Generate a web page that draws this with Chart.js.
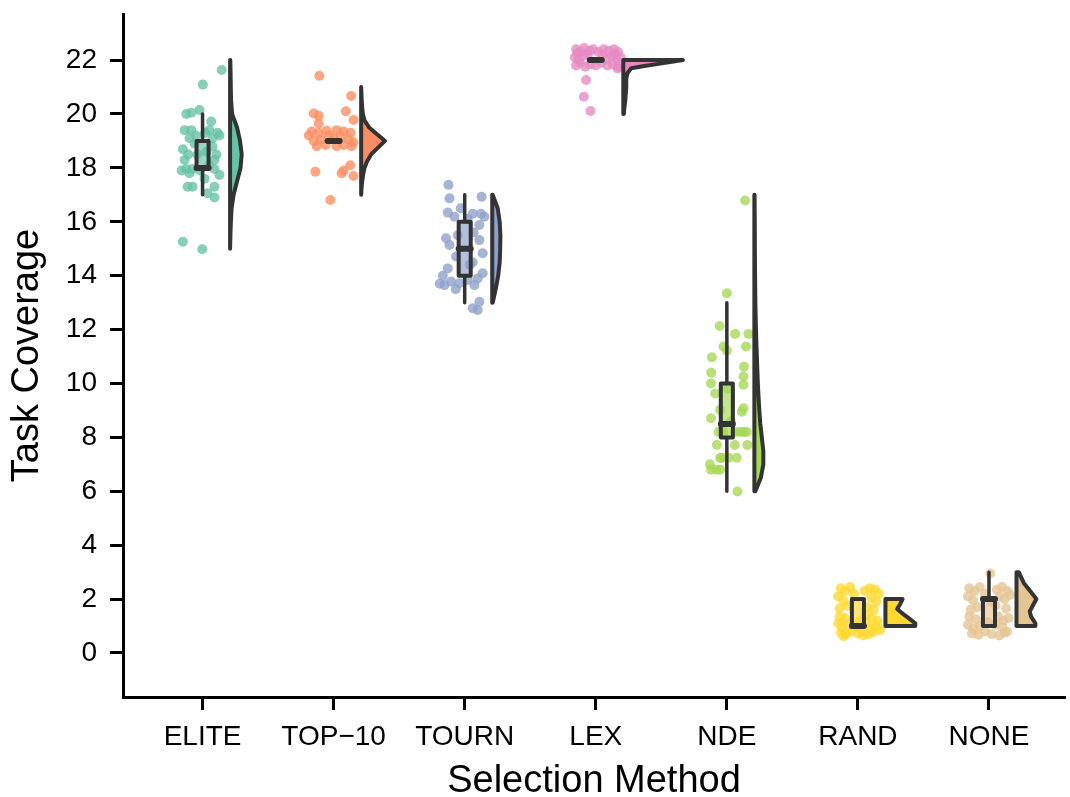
<!DOCTYPE html>
<html>
<head>
<meta charset="utf-8">
<script src="https://cdn.jsdelivr.net/npm/chart.js@4.4.0/dist/chart.umd.min.js"></script>
<style>
body{margin:0;background:#fff}
#wrap{width:1070px;height:797px}
</style>
</head>
<body>
<div id="wrap"><canvas id="myChart" width="1070" height="797"></canvas></div>
<script>
var methods = ["ELITE", "TOP\u221210", "TOURN", "LEX", "NDE", "RAND", "NONE"];
var colors = ["#66c2a5", "#fc8d62", "#8da0cb", "#e78ac3", "#a6d854", "#ffd92f", "#e5c494"];
var yTicks = [0, 2, 4, 6, 8, 10, 12, 14, 16, 18, 20, 22];

// box stats (whisker low, q1, median, q3, whisker high)
var boxLow  = [17, 19, 13, 22, 6,   1, 1];
var boxQ1   = [18, 19, 14, 22, 8,   1, 1];
var boxMed  = [18, 19, 15, 22, 8.5, 1, 2];
var boxQ3   = [19, 19, 16, 22, 10,  2, 2];
var boxHigh = [20, 19, 17, 22, 13,  2, 3];

// half violins: value grid and density
var eliteVioY = [15, 15.5, 16, 16.5, 17, 17.5, 18, 18.5, 19, 19.5, 20, 20.5, 21, 21.5, 22];
var eliteVioD = [0, 0.3, 0.8, 1.5, 3.5, 7, 10.5, 11.7, 10, 7, 2, 1, 0.7, 0.5, 0.2];
var top10VioY = [17, 17.25, 17.5, 17.75, 18, 18.25, 18.5, 18.75, 19, 19.25, 19.5, 19.75, 20, 20.25, 20.5, 20.75, 21];
var top10VioD = [0, 0.4, 1, 2, 3.3, 6, 10, 17, 24, 16, 8, 3.5, 1.7, 1, 0.6, 0.3, 0];
var tournVioY = [13, 13.5, 14, 14.5, 15, 15.5, 16, 16.5, 17];
var tournVioD = [0.5, 3.5, 6, 7.5, 8, 8.2, 7.5, 5.5, 0.5];
var lexVioY = [20, 20.2, 20.5, 21, 21.3, 21.5, 21.7, 21.78, 21.85, 21.93, 22];
var lexVioD = [0.5, 1, 2, 3, 3, 4, 8, 21, 34, 47, 60];
var ndeVioY = [6, 6.5, 7, 7.5, 8, 8.5, 9, 9.5, 10, 10.5, 11, 11.5, 12, 12.5, 13, 14, 15, 16, 17];
var ndeVioD = [1, 6.5, 9, 9, 7.5, 6, 5, 4.2, 3.5, 3, 2.5, 2, 1.6, 1.3, 1, 0.7, 0.5, 0.4, 0.2];
var randVioY = [1, 1.1, 1.3, 1.5, 1.63, 1.8, 2];
var randVioD = [30, 30, 23, 16, 11.7, 14.5, 17.3];
var noneVioY = [1, 1.1, 1.35, 1.54, 1.78, 2, 2.25, 2.6, 3];
var noneVioD = [19, 19, 14.7, 13.3, 16.7, 20, 14.7, 7.3, 2.3];

// jittered points: horizontal jitter and value
var eliteJit = [.146,.002,-.124,-.086,-.023,.066,-.137,-.086,.053,.114,.129,-.099,.076,-.15,.076,-.137,.091,-.124,-.076,.091,.129,-.099,-.114,-.076,.091,.038,.091,-.15,-.002,-.04,.03,-.05,.015,-.02,-.16,-.06,.05,.106,-.11,.02];
var eliteVal = [21.63,21.09,20.0,20.05,20.15,19.72,19.4,19.4,19.4,19.3,19.2,19.1,19.1,18.69,18.79,18.29,18.29,17.96,17.96,17.96,17.74,17.8,17.3,17.3,17.3,17.06,16.9,15.26,14.98,18.5,18.6,19.2,17.6,17.9,17.9,18.9,18.1,18.5,18.5,19.3];
var top10Jit = [-.109,.134,-.152,-.114,.093,.152,-.114,-.167,-.114,-.053,.023,.076,.129,-.152,-.099,.114,.152,-.129,-.061,.023,.076,.137,-.038,.053,-.139,.076,.127,.061,.152,-.025,0,-.19];
var top10Val = [21.42,20.67,20.02,19.93,20.1,19.78,19.65,19.35,19.3,19.38,19.4,19.35,19.3,19.0,19.05,19.05,18.95,18.8,18.85,18.8,18.85,18.8,19.2,19.15,17.86,17.9,18.1,17.8,17.7,16.81,19.1,19.2];
var tournJit = [-.124,-.116,.129,-.129,-.078,.061,.124,.15,.112,-.142,-.116,.112,.137,-.066,-.129,.137,.099,-.154,-.104,-.04,.023,.074,.112,.061,.099,.023,.068,-.053,.061,-.167,.038,-.03,-.19,-.068];
var tournVal = [17.37,16.87,16.93,16.34,16.19,16.3,16.3,16.19,15.88,15.39,15.14,15.32,14.83,14.71,14.27,14.09,13.9,13.65,13.78,13.72,13.84,13.65,13.03,12.79,12.73,16.1,15.6,15.5,14.5,14.0,14.4,16.5,13.7,13.5];
var lexJit = [-.15,-.12,-.09,-.05,-.02,.02,.06,.1,.14,.17,-.16,-.13,-.1,.08,.12,.16,.19,-.15,-.12,-.08,-.04,0,.04,.09,.13,.17,-.06,.05,-.14,.15,.167,-.074,-.091,-.04];
var lexVal = [22.4,22.3,22.45,22.35,22.4,22.3,22.4,22.35,22.4,22.3,22.1,22.0,22.15,22.05,22.15,22.0,22.1,21.8,21.9,21.75,21.85,21.8,21.9,21.8,21.85,21.75,22.2,22.2,22.25,22.2,21.69,21.26,20.64,20.11];
var ndeJit = [.139,0,-.055,.063,.165,-.025,0,.146,-.114,.131,-.119,.127,.127,-.121,-.089,.127,.114,-.051,-.121,-.063,-.025,.063,.101,.127,.152,-.076,.061,.157,-.051,-.038,.013,.076,-.121,-.081,-.051,.081,-.129,.03,.008];
var ndeVal = [16.79,13.35,12.13,11.84,11.84,11.37,11.22,11.37,10.97,10.62,10.4,10.26,9.95,10.0,9.63,9.08,8.95,9.02,8.71,8.2,8.2,8.2,8.2,8.2,8.2,7.72,7.72,7.72,7.24,7.24,7.24,7.24,6.8,6.8,6.8,5.99,7.0,8.6,9.8];
var randJit = [-.13,-.1,-.06,.05,.09,.13,-.15,-.11,-.08,.1,.14,.07,-.14,.12,-.03,.16,-.14,-.1,.06,.11,.15,-.15,-.12,-.08,.07,.1,.14,.17,-.13,-.09,-.05,0,.04,.08,.12,-.11,.02,-.02,.03];
var randVal = [2.4,2.3,2.45,2.3,2.4,2.35,2.1,1.95,1.75,2.05,1.9,1.7,1.65,1.6,2.2,2.2,1.35,1.3,1.4,1.3,1.2,1.1,0.95,1.05,1.1,0.9,1.0,0.85,0.75,0.7,0.8,0.72,0.65,0.7,0.78,0.62,1.2,0.95,0.85];
var noneJit = [-.15,-.11,-.07,.06,.1,.14,-.16,-.12,.08,.12,.16,-.09,.05,.13,-.14,-.03,.02,-.15,-.1,.07,.11,.15,-.16,-.12,-.07,.05,.1,.14,-.13,-.08,-.03,.02,.08,.12,-.01,.01];
var noneVal = [2.4,2.3,2.45,2.35,2.45,2.3,2.1,1.95,2.1,2.0,2.15,1.7,1.75,1.65,1.6,2.2,1.9,1.35,1.25,1.35,1.2,1.3,1.05,0.9,1.0,1.05,0.95,0.8,0.72,0.68,0.8,0.7,0.65,0.75,1.15,2.95];

var violinY = [eliteVioY, top10VioY, tournVioY, lexVioY, ndeVioY, randVioY, noneVioY];
var violinD = [eliteVioD, top10VioD, tournVioD, lexVioD, ndeVioD, randVioD, noneVioD];
var pointJit = [eliteJit, top10Jit, tournJit, lexJit, ndeJit, randJit, noneJit];
var pointVal = [eliteVal, top10Val, tournVal, lexVal, ndeVal, randVal, noneVal];

var FONT = "'Liberation Sans', Arial, sans-serif";
var VIOLIN_OFFSET = 0.21;
var DENSITY_SCALE = 1 / 131.75;
var BOX_HALF = 0.046;
var DARK = "#333333";

function makedatasets(){
  var sets = [];
  for (var i = 0; i < methods.length; i++) {
    var pts = [];
    for (var j = 0; j < pointVal[i].length; j++) {
      pts.push({x: i + pointJit[i][j], y: pointVal[i][j]});
    }
    sets.push({
      label: methods[i],
      data: pts,
      backgroundColor: colors[i] + "c8",
      borderWidth: 0,
      pointRadius: 5,
      pointHoverRadius: 5
    });
  }
  return sets;
}

var raincloud = {
  id: "raincloud",
  afterDatasetsDraw: function(chart){
    var ctx = chart.ctx;
    var xs = chart.scales.x, ys = chart.scales.y;
    ctx.save();
    ctx.lineJoin = "round";
    ctx.lineCap = "round";
    for (var i = 0; i < methods.length; i++) {
      // half violin
      var vy = violinY[i], vd = violinD[i];
      var base = i + VIOLIN_OFFSET;
      ctx.beginPath();
      ctx.moveTo(xs.getPixelForValue(base), ys.getPixelForValue(vy[0]));
      for (var j = 0; j < vy.length; j++) {
        ctx.lineTo(xs.getPixelForValue(base + vd[j] * DENSITY_SCALE), ys.getPixelForValue(vy[j]));
      }
      ctx.lineTo(xs.getPixelForValue(base), ys.getPixelForValue(vy[vy.length - 1]));
      ctx.closePath();
      ctx.fillStyle = colors[i];
      ctx.fill();
      ctx.strokeStyle = DARK;
      ctx.lineWidth = 4;
      ctx.stroke();

      // box and whiskers
      var cx = xs.getPixelForValue(i);
      var x0 = xs.getPixelForValue(i - BOX_HALF), x1 = xs.getPixelForValue(i + BOX_HALF);
      ctx.lineWidth = 3.5;
      ctx.beginPath();
      ctx.moveTo(cx, ys.getPixelForValue(boxHigh[i]));
      ctx.lineTo(cx, ys.getPixelForValue(boxQ3[i]));
      ctx.moveTo(cx, ys.getPixelForValue(boxQ1[i]));
      ctx.lineTo(cx, ys.getPixelForValue(boxLow[i]));
      ctx.stroke();
      var yq3 = ys.getPixelForValue(boxQ3[i]), yq1 = ys.getPixelForValue(boxQ1[i]);
      ctx.fillStyle = colors[i] + "aa";
      ctx.fillRect(x0, yq3, x1 - x0, yq1 - yq3);
      ctx.lineWidth = 4;
      ctx.strokeRect(x0, yq3, x1 - x0, yq1 - yq3);
      var ym = ys.getPixelForValue(boxMed[i]);
      ctx.lineWidth = 6;
      ctx.beginPath();
      ctx.moveTo(x0, ym);
      ctx.lineTo(x1, ym);
      ctx.stroke();
    }
    ctx.restore();
  }
};

function init(){
  var ctx = document.getElementById("myChart").getContext("2d");
  var myChart = new Chart(ctx, {
    type: "scatter",
    data: {datasets: makedatasets()},
    plugins: [raincloud],
    options: {
      responsive: false,
      animation: false,
      devicePixelRatio: 1,
      events: [],
      layout: {padding: {top: 0, right: 2, left: 0, bottom: 0}},
      plugins: {legend: {display: false}, tooltip: {enabled: false}},
      scales: {
        x: {
          type: "linear",
          min: -0.607,
          max: 6.58,
          afterBuildTicks: function(scale){
            scale.ticks = methods.map(function(m, i){ return {value: i}; });
          },
          afterFit: function(scale){ scale.height = 100; },
          ticks: {
            autoSkip: false,
            maxRotation: 0,
            padding: 13,
            color: "#000",
            font: {family: FONT, size: 28, lineHeight: 1},
            callback: function(value, index){ return methods[index]; }
          },
          grid: {drawOnChartArea: false, drawTicks: true, tickLength: 13, tickWidth: 3, tickColor: "#000"},
          border: {display: true, color: "#000", width: 3},
          title: {display: true, text: "Selection Method", color: "#000",
                  font: {family: FONT, size: 38, lineHeight: 0.8}, padding: {top: 0, bottom: 0}}
        },
        y: {
          type: "linear",
          min: -1.633,
          max: 23.71,
          afterBuildTicks: function(scale){
            scale.ticks = yTicks.map(function(v){ return {value: v}; });
          },
          afterFit: function(scale){
            scale.width = 123;
            scale.paddingTop = 14;
            scale.paddingBottom = 0;
          },
          ticks: {
            padding: 13,
            color: "#000",
            font: {family: FONT, size: 28, lineHeight: 1}
          },
          grid: {drawOnChartArea: false, drawTicks: true, tickLength: 13, tickWidth: 3, tickColor: "#000"},
          border: {display: true, color: "#000", width: 3},
          title: {display: true, text: "Task Coverage", color: "#000",
                  font: {family: FONT, size: 38, lineHeight: 1.2}, padding: {top: 5, bottom: 0}}
        }
      }
    }
  });
}

init();
</script>
</body>
</html>
